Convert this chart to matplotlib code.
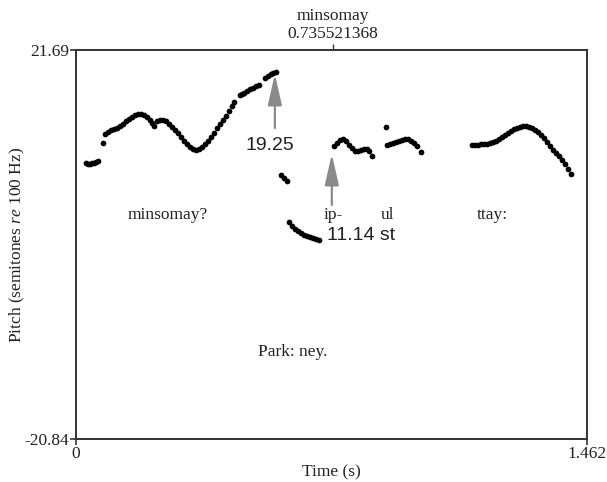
import matplotlib
matplotlib.use("Agg")
import matplotlib.pyplot as plt

plt.rcParams["font.family"] = ["Liberation Serif", "DejaVu Serif"]
plt.rcParams["mathtext.fontset"] = "custom"
plt.rcParams["mathtext.rm"] = "Liberation Serif"
plt.rcParams["mathtext.it"] = "Liberation Serif:italic"

# pitch track, one list per voiced stretch (time in s, pitch in semitones re 100 Hz)
seg1_t = [0.029, 0.034, 0.040, 0.046, 0.052, 0.058, 0.064, 0.077]
seg1_p = [9.3, 9.2, 9.2, 9.3, 9.3, 9.4, 9.6, 11.52]

seg2_t = [0.083, 0.092, 0.100, 0.109, 0.117, 0.126, 0.134, 0.143, 0.152, 0.160,
          0.169, 0.177, 0.186, 0.195, 0.203, 0.212, 0.217, 0.223]
seg2_p = [12.51, 12.72, 12.94, 13.05, 13.16, 13.38, 13.60, 13.93, 14.15, 14.36,
          14.58, 14.69, 14.69, 14.58, 14.36, 14.04, 13.71, 13.38]

seg3_t = [0.232, 0.240, 0.249, 0.258, 0.266, 0.275, 0.283, 0.292, 0.300, 0.309,
          0.318, 0.326, 0.335, 0.343, 0.352, 0.360, 0.369, 0.378, 0.386, 0.395,
          0.403, 0.412, 0.421, 0.429, 0.438, 0.446, 0.452,
          0.469, 0.475, 0.481, 0.489, 0.498, 0.506, 0.515, 0.524,
          0.541, 0.549, 0.558, 0.565, 0.572]
seg3_p = [13.93, 14.04, 14.04, 13.93, 13.60, 13.27, 12.94, 12.61, 12.18, 11.74,
          11.41, 11.08, 10.87, 10.76, 10.87, 11.08, 11.41, 11.74, 12.18, 12.61,
          13.16, 13.60, 14.04, 14.47, 15.02, 15.57, 16.00,
          16.77, 16.88, 16.99, 17.21, 17.43, 17.54, 17.75, 17.86,
          18.63, 18.85, 19.07, 19.15, 19.25]

seg4_t = [0.587, 0.595, 0.604]
seg4_p = [8.02, 7.69, 7.37]

seg5_t = [0.609, 0.618, 0.627, 0.635, 0.644, 0.652, 0.661, 0.670, 0.678, 0.687, 0.695]
seg5_p = [2.88, 2.45, 2.12, 1.90, 1.68, 1.46, 1.35, 1.24, 1.13, 1.03, 0.92]

seg6_t = [0.738, 0.747, 0.755, 0.764, 0.773, 0.781, 0.790, 0.798, 0.807, 0.815,
          0.824, 0.833, 0.838, 0.847]
seg6_p = [11.14, 11.52, 11.85, 11.96, 11.74, 11.30, 10.97, 10.65, 10.65, 10.76,
          10.87, 10.87, 10.65, 10.10]

seg7_t = [0.887, 0.890, 0.898, 0.907, 0.916, 0.924, 0.933, 0.941, 0.950, 0.959,
          0.967, 0.976, 0.987]
seg7_p = [13.27, 11.30, 11.41, 11.52, 11.63, 11.74, 11.85, 11.96, 11.96, 11.74,
          11.52, 11.19, 10.54]

seg8_t = [1.133, 1.142, 1.150, 1.159, 1.167, 1.176, 1.185, 1.193, 1.202, 1.210,
          1.219, 1.227, 1.236, 1.245, 1.253, 1.262, 1.270, 1.279, 1.288, 1.296,
          1.305, 1.313, 1.322, 1.330, 1.339, 1.348, 1.356, 1.365, 1.373, 1.382,
          1.391, 1.399, 1.408, 1.416]
seg8_p = [11.30, 11.30, 11.30, 11.41, 11.41, 11.41, 11.52, 11.63, 11.74, 11.96,
          12.18, 12.40, 12.61, 12.83, 13.05, 13.16, 13.27, 13.38, 13.38, 13.27,
          13.16, 12.94, 12.72, 12.40, 12.07, 11.63, 11.19, 10.76, 10.43, 10.10,
          9.66, 9.23, 8.68, 8.13]

t_min, t_max = 0.0, 1.462
p_min, p_max = -20.84, 21.69
marker_time = 0.735521368
marker_label = "minsomay"

words = ["minsomay?", "ip-", "ul", "ttay:"]
word_t = [0.263, 0.735, 0.890, 1.190]
word_p = 3.70
reply_text = "Park: ney."
reply_pos = (0.621, -11.33)

peak_value = 19.25
low_value = 11.14

fig = plt.figure(figsize=(6.07, 4.82), dpi=100)
ax = fig.add_axes([0.1252, 0.0892, 0.8418, 0.8071])

all_t = seg1_t + seg2_t + seg3_t + seg4_t + seg5_t + seg6_t + seg7_t + seg8_t
all_p = seg1_p + seg2_p + seg3_p + seg4_p + seg5_p + seg6_p + seg7_p + seg8_p
ax.scatter(all_t, all_p, s=17, color="black", linewidths=0, zorder=3)

ax.set_xlim(t_min, t_max)
ax.set_ylim(p_min, p_max)
ax.set_xticks([t_min, t_max])
ax.set_xticklabels(["0", "1.462"])
ax.set_yticks([p_min, p_max])
ax.set_yticklabels(["-20.84", "21.69"])
ax.tick_params(axis="both", direction="out", length=4, width=1.2,
               color="#333333", labelsize=12.5, labelcolor="#222222", pad=1)
for sp in ax.spines.values():
    sp.set_color("#333333")
    sp.set_linewidth(1.4)

ax.set_xlabel("Time (s)", fontsize=12.5, labelpad=2, color="#222222")
ax.set_ylabel("Pitch (semitones $re$ 100 Hz)", fontsize=12.5, labelpad=-2, color="#222222")

top = ax.secondary_xaxis("top")
top.set_xticks([marker_time])
top.set_xticklabels([f"{marker_label}\n{marker_time}"], fontsize=12.5,
                    linespacing=1.15, color="#222222")
top.tick_params(direction="out", length=4, width=1.0, color="#333333", pad=2)
top.spines["top"].set_visible(False)

for w, x in zip(words, word_t):
    ax.text(x, word_p, w, ha="center", va="center", fontsize=12.5, color="#222222")
ax.text(reply_pos[0], reply_pos[1], reply_text, ha="center", va="center",
        fontsize=12.5, color="#222222")

arrow_kw = dict(arrowstyle="-|>,head_length=1.9,head_width=0.43",
                mutation_scale=10, color="#8a8a8a", lw=1.6, shrinkA=0, shrinkB=0)
ax.annotate("", xy=(0.569, 19.07), xytext=(0.569, 13.16), arrowprops=arrow_kw)
ax.annotate("", xy=(0.732, 10.32), xytext=(0.732, 4.74), arrowprops=arrow_kw)

sans = ["Liberation Sans", "DejaVu Sans"]
ax.text(0.555, 11.3, f"{peak_value:.2f}", ha="center", va="center",
        fontsize=14, family=sans, color="#222222")
ax.text(0.815, 1.40, f"{low_value:.2f} st", ha="center", va="center",
        fontsize=14, family=sans, color="#222222")

fig.savefig("out.png", dpi=100)
